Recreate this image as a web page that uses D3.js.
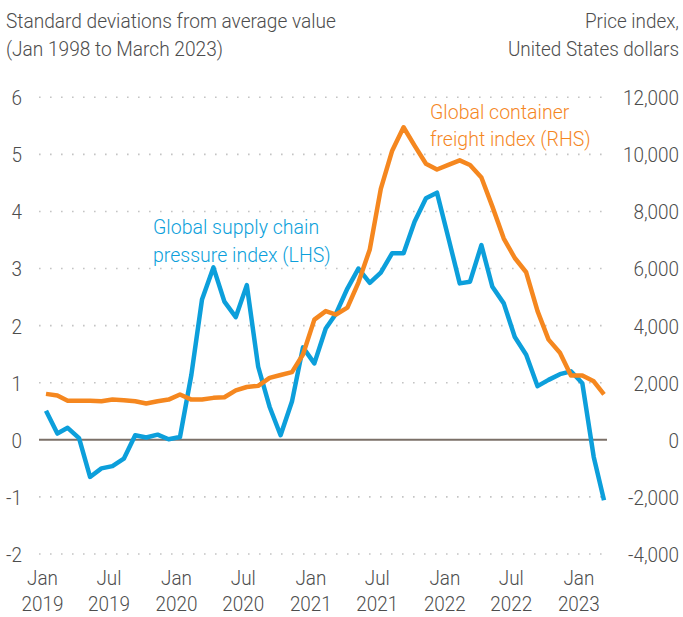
<!DOCTYPE html>
<html>
<head>
<meta charset="utf-8">
<script src="https://cdn.jsdelivr.net/npm/d3@7"></script>
<style>
  html, body { margin: 0; padding: 0; background: #fff; }
  svg { display: block; font-family: Roboto, "Noto Sans", sans-serif; }
</style>
</head>
<body>
<div id="chart"></div>
<script>
// ---- Data (monthly, Jan 2019 .. Mar 2023) ----------------------------------
const months = d3.range(51).map(i => new Date(2019, i, 1));

// Global supply chain pressure index, std deviations (LHS)
const gscpi = [
  0.51, 0.11, 0.21, 0.03, -0.65, -0.50, -0.46, -0.33, 0.08, 0.04, 0.09, 0.01,
  0.05, 1.14, 2.46, 3.02, 2.42, 2.15, 2.71, 1.28, 0.58, 0.08, 0.67, 1.62,
  1.34, 1.95, 2.21, 2.65, 3.00, 2.75, 2.93, 3.27, 3.27, 3.82, 4.23, 4.33,
  3.54, 2.74, 2.77, 3.41, 2.68, 2.39, 1.80, 1.49, 0.94, 1.05, 1.15, 1.20,
  0.99, -0.30, -1.06
];

// Global container freight index, USD (RHS)
const freight = [
  1610, 1550, 1370, 1370, 1370, 1350, 1410, 1390, 1350, 1270, 1350, 1410,
  1590, 1410, 1410, 1470, 1490, 1730, 1850, 1890, 2170, 2270, 2370, 2990,
  4210, 4510, 4390, 4630, 5510, 6670, 8790, 10130, 10950, 10310, 9670, 9470,
  9630, 9790, 9630, 9190, 8170, 7050, 6370, 5870, 4510, 3510, 3050, 2250,
  2250, 2050, 1590
];

const leftTicks  = d3.range(-2, 7);
const rightTicks = d3.range(-4000, 12001, 2000);
const xTicks = [
  new Date(2019, 0, 1), new Date(2019, 6, 1), new Date(2020, 0, 1),
  new Date(2020, 6, 1), new Date(2021, 0, 1), new Date(2021, 6, 1),
  new Date(2022, 0, 1), new Date(2022, 6, 1), new Date(2023, 0, 1)
];
const monthName = ['Jan', 'Feb', 'Mar', 'Apr', 'May', 'Jun', 'Jul', 'Aug', 'Sep', 'Oct', 'Nov', 'Dec'];

// ---- Layout ----------------------------------------------------------------
const W = 683, H = 617;
const BLUE = '#0c9fdb', ORANGE = '#f5871f', TEXT = '#4d4d4d';
const FS = 21, SQ = 0.9;   // font size, horizontal squeeze (condensed look)

const svg = d3.select('#chart').append('svg')
  .attr('width', W).attr('height', H);

const x  = d3.scaleTime().domain([months[0], months[months.length - 1]]).range([46, 604]);
const y  = d3.scaleLinear().domain([-2, 6]).range([554, 97.3]);
const yR = d3.scaleLinear().domain([-4000, 12000]).range([554, 97.3]);

const fmt = d => d3.format(',')(d).replace('\u2212', '-');

// squeezed text helper
function label(g, tx, ty, str, anchor, color, sq) {
  return g.append('text')
    .attr('transform', `translate(${tx},${ty}) scale(${sq || SQ},1)`)
    .attr('text-anchor', anchor || 'start')
    .style('font-size', FS + 'px')
    .style('font-weight', 300)
    .style('fill', color || TEXT)
    .text(str);
}

// ---- Gridlines -------------------------------------------------------------
svg.append('g').selectAll('line')
  .data(leftTicks.filter(d => d !== 0))
  .join('line')
  .attr('x1', 39).attr('x2', 607)
  .attr('y1', d => y(d)).attr('y2', d => y(d))
  .attr('stroke', '#c4c4c4')
  .attr('stroke-width', 1.6)
  .attr('stroke-dasharray', '1.6,9.4');

svg.append('line')
  .attr('x1', 39).attr('x2', 607)
  .attr('y1', y(0)).attr('y2', y(0))
  .attr('stroke', '#7b7068').attr('stroke-width', 2);

// ---- Axes ------------------------------------------------------------------
function styleAxis(g) {
  g.select('.domain').remove();
  g.selectAll('.tick line').remove();
  g.selectAll('.tick text')
    .attr('x', 0).attr('dy', '0.35em')
    .attr('transform', `scale(${SQ},1)`)
    .attr('fill', TEXT)
    .style('font-size', FS + 'px')
    .style('font-weight', 300)
    .style('font-family', 'Roboto, sans-serif');
}

svg.append('g')
  .attr('transform', 'translate(22,0)')
  .call(d3.axisLeft(y).tickValues(leftTicks).tickFormat(fmt).tickSize(0).tickPadding(0))
  .call(styleAxis);

svg.append('g')
  .attr('transform', 'translate(679,0)')
  .call(d3.axisLeft(yR).tickValues(rightTicks).tickFormat(fmt).tickSize(0).tickPadding(0))
  .call(styleAxis);

const xAxis = svg.append('g')
  .attr('transform', 'translate(0,585)')
  .call(d3.axisBottom(x).tickValues(xTicks).tickSize(0).tickFormat(''));
xAxis.select('.domain').remove();
xAxis.selectAll('.tick text').each(function (d) {
  const t = d3.select(this)
    .attr('y', 0).attr('dy', 0)
    .attr('transform', `translate(-4,0) scale(${SQ},1)`)
    .attr('fill', TEXT)
    .style('font-size', FS + 'px')
    .style('font-weight', 300)
    .style('font-family', 'Roboto, sans-serif');
  t.append('tspan').attr('x', 0).attr('dy', 0).text(monthName[d.getMonth()]);
  t.append('tspan').attr('x', 0).attr('dy', 26.5).text(d.getFullYear());
});

// ---- Lines -----------------------------------------------------------------
const lineL = d3.line().x((d, i) => x(months[i])).y(d => y(d));
const lineR = d3.line().x((d, i) => x(months[i])).y(d => yR(d));

svg.append('path')
  .datum(gscpi)
  .attr('d', lineL)
  .attr('fill', 'none')
  .attr('stroke', BLUE)
  .attr('stroke-width', 4.5)
  .attr('stroke-linejoin', 'round');

svg.append('path')
  .datum(freight)
  .attr('d', lineR)
  .attr('fill', 'none')
  .attr('stroke', ORANGE)
  .attr('stroke-width', 4.5)
  .attr('stroke-linejoin', 'round');

// ---- Titles & annotations --------------------------------------------------
const txt = svg.append('g');
label(txt, 6, 28, 'Standard deviations from average value', 'start', TEXT, 0.91);
label(txt, 6, 56, '(Jan 1998 to March 2023)', 'start', TEXT, 0.91);
label(txt, 679, 28, 'Price index,', 'end');
label(txt, 679, 56, 'United States dollars', 'end');

label(txt, 153, 234, 'Global supply chain', 'start', BLUE, 0.93);
label(txt, 153, 262, 'pressure index (LHS)', 'start', BLUE, 0.93);
label(txt, 430, 119, 'Global container', 'start', ORANGE, 0.93);
label(txt, 430, 146, 'freight index (RHS)', 'start', ORANGE, 0.93);
</script>
</body>
</html>
